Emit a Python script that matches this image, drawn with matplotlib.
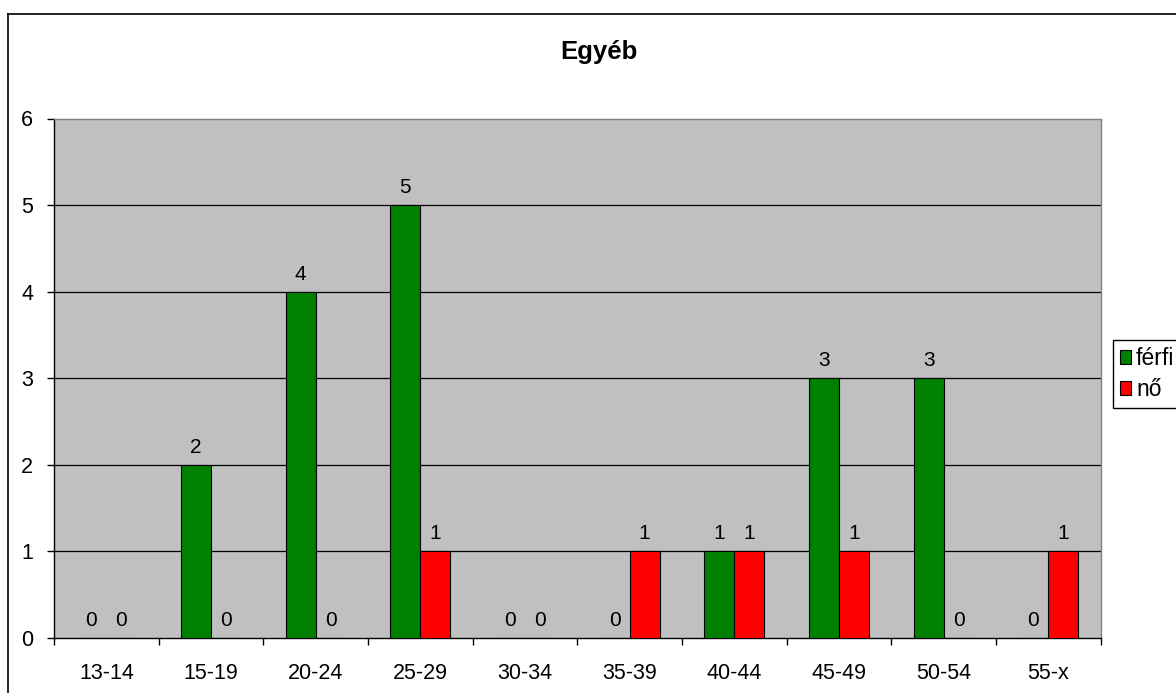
import numpy as np
import matplotlib
matplotlib.use("Agg")
import matplotlib.pyplot as plt
from matplotlib.patches import Patch
from matplotlib.lines import Line2D

plt.rcParams['font.family'] = ['Liberation Sans', 'DejaVu Sans']

# adatok
categories = ['13-14', '15-19', '20-24', '25-29', '30-34',
              '35-39', '40-44', '45-49', '50-54', '55-x']
ferfi = [0, 2, 4, 5, 0, 0, 1, 3, 3, 0]
no = [0, 0, 0, 1, 0, 1, 1, 1, 0, 1]
series_names = ['férfi', 'nő']
title = 'Egyéb'

W, H = 1176, 693
px = 72 / 100  # pixel -> point
fig = plt.figure(figsize=(W / 100, H / 100), dpi=100)
fig.patch.set_facecolor('white')

# plot area in pixel coordinates
left, right, top, bottom = 54, 1100.7, 118.5, 637.7
ax = fig.add_axes([left / W, 1 - bottom / H, (right - left) / W, (bottom - top) / H])
ax.set_facecolor('#C0C0C0')

x = np.arange(len(categories))
w = 1 / 3.5
ax.bar(x - w / 2, ferfi, w, color='#008000', edgecolor='black', linewidth=0.8, zorder=3)
ax.bar(x + w / 2, no, w, color='#FF0000', edgecolor='black', linewidth=0.8, zorder=3)

# értékcímkék
for xs, vals in ((x - w / 2, ferfi), (x + w / 2, no)):
    for xi, v in zip(xs, vals):
        ax.annotate(str(v), (xi, v), xytext=(0, 12 * px), textcoords='offset points',
                    ha='center', va='baseline', fontsize=15, zorder=4)

ax.set_xlim(-0.5, len(categories) - 0.5)
ax.set_ylim(0, 6)
ax.set_yticks(range(0, 7))
for yv in range(1, 6):
    ax.axhline(yv, color='black', linewidth=0.9, zorder=1)

# kategória-határok tickjei
ax.set_xticks(np.arange(-0.5, len(categories), 1.0))
ax.set_xticklabels([])
ax.set_xticks(x, minor=True)
ax.set_xticklabels(categories, minor=True)
ax.tick_params(axis='x', which='major', direction='out', length=7 * px, width=1, color='black')
ax.tick_params(axis='x', which='minor', length=0, pad=25 * px, labelsize=15.5)
ax.tick_params(axis='y', direction='out', length=7 * px, width=1, pad=14 * px, labelsize=15.5)

ax.spines['left'].set_color('black')
ax.spines['bottom'].set_color('black')
ax.spines['top'].set_color('#808080')
ax.spines['right'].set_color('#808080')
for s in ax.spines.values():
    s.set_linewidth(1)

# cím
fig.text(599 / W, 1 - 52 / H, title, ha='center', va='center',
         fontsize=18.5, fontweight='bold')

# jelmagyarázat
handles = [Patch(facecolor='#008000', edgecolor='black', linewidth=0.8),
           Patch(facecolor='#FF0000', edgecolor='black', linewidth=0.8)]
leg = fig.legend(handles, series_names, loc='lower left',
                 bbox_to_anchor=(1112.7 / W, 1 - 408 / H), bbox_transform=fig.transFigure,
                 borderaxespad=0, fontsize=16.5, frameon=True, fancybox=False,
                 framealpha=1, edgecolor='black', handlelength=0.5, handleheight=0.5,
                 handletextpad=0.22, labelspacing=0.35, borderpad=0.3)
leg.get_frame().set_linewidth(1)

# külső keret
x0 = 8 / W
y0 = 1 - 14 / H
fig.add_artist(Line2D([x0, x0], [0, y0], color='black', linewidth=1.2, transform=fig.transFigure))
fig.add_artist(Line2D([x0, 1], [y0, y0], color='black', linewidth=1.2, transform=fig.transFigure))

fig.savefig('out.png', dpi=100)
